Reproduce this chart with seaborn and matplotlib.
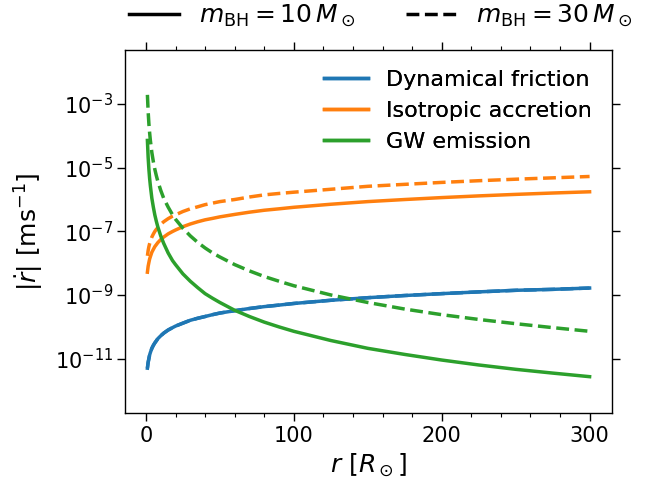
import numpy as np
import pandas as pd
import seaborn as sns
import matplotlib
matplotlib.use("Agg")
import matplotlib.pyplot as plt
from matplotlib.lines import Line2D
from matplotlib.ticker import MultipleLocator, NullLocator, FixedLocator, LogFormatterSciNotation

# ---- data ----
r = [1, 1.5, 2, 2.5, 3, 4, 5, 6, 7, 8, 10, 12, 15, 18, 20, 25, 30, 35, 40, 45, 50,
     60, 70, 80, 90, 100, 125, 150, 175, 200, 225, 250, 275, 300]

df_10 = [5.0e-12, 7.6e-12, 1.0e-11, 1.3e-11, 1.55e-11, 2.1e-11, 2.6e-11, 3.1e-11, 3.6e-11, 4.2e-11,
         5.2e-11, 6.3e-11, 7.9e-11, 9.4e-11, 1.05e-10, 1.3e-10, 1.6e-10, 1.85e-10, 2.1e-10, 2.4e-10,
         2.7e-10, 3.2e-10, 3.75e-10, 4.3e-10, 4.8e-10, 5.4e-10, 6.8e-10, 8.2e-10, 9.6e-10, 1.1e-9,
         1.25e-9, 1.4e-9, 1.5e-9, 1.65e-9]
df_30 = list(df_10)

acc_10 = [5.2e-9, 8.0e-9, 1.05e-8, 1.35e-8, 1.6e-8, 2.2e-8, 2.7e-8, 3.3e-8, 3.8e-8, 4.4e-8,
          5.5e-8, 6.6e-8, 8.3e-8, 9.9e-8, 1.1e-7, 1.4e-7, 1.7e-7, 2.0e-7, 2.3e-7, 2.55e-7,
          2.85e-7, 3.4e-7, 4.0e-7, 4.6e-7, 5.1e-7, 5.7e-7, 7.1e-7, 8.6e-7, 1.0e-6, 1.15e-6,
          1.3e-6, 1.45e-6, 1.6e-6, 1.75e-6]
acc_30 = [1.7e-8, 2.5e-8, 3.3e-8, 4.1e-8, 4.9e-8, 6.6e-8, 8.2e-8, 9.9e-8, 1.15e-7, 1.3e-7,
          1.65e-7, 2.0e-7, 2.5e-7, 3.0e-7, 3.3e-7, 4.2e-7, 5.1e-7, 5.9e-7, 6.9e-7, 7.7e-7,
          8.6e-7, 1.0e-6, 1.2e-6, 1.4e-6, 1.55e-6, 1.7e-6, 2.1e-6, 2.6e-6, 3.0e-6, 3.45e-6,
          3.9e-6, 4.35e-6, 4.8e-6, 5.3e-6]

gw_10 = [7.2e-5, 2.1e-5, 9.0e-6, 4.6e-6, 2.7e-6, 1.1e-6, 5.8e-7, 3.3e-7, 2.1e-7, 1.4e-7,
         7.2e-8, 4.2e-8, 2.1e-8, 1.2e-8, 9.0e-9, 4.6e-9, 2.7e-9, 1.7e-9, 1.1e-9, 7.9e-10,
         5.8e-10, 3.3e-10, 2.1e-10, 1.4e-10, 9.9e-11, 7.2e-11, 3.7e-11, 2.1e-11, 1.35e-11, 9.0e-12,
         6.3e-12, 4.6e-12, 3.5e-12, 2.7e-12]
gw_30 = [1.95e-3, 5.8e-4, 2.4e-4, 1.25e-4, 7.2e-5, 3.0e-5, 1.56e-5, 9.0e-6, 5.7e-6, 3.8e-6,
         1.95e-6, 1.1e-6, 5.8e-7, 3.3e-7, 2.4e-7, 1.25e-7, 7.2e-8, 4.5e-8, 3.0e-8, 2.1e-8,
         1.56e-8, 9.0e-9, 5.7e-9, 3.8e-9, 2.7e-9, 1.95e-9, 1.0e-9, 5.8e-10, 3.6e-10, 2.4e-10,
         1.7e-10, 1.25e-10, 9.4e-11, 7.2e-11]

processes = ["Dynamical friction", "Isotropic accretion", "GW emission"]
colors = ["#1f77b4", "#ff7f0e", "#2ca02c"]
mass_labels = [r"$m_{\rm BH}=10\,M_\odot$", r"$m_{\rm BH}=30\,M_\odot$"]
ytick_vals = [1e-11, 1e-9, 1e-7, 1e-5, 1e-3]

series = {
    ("Dynamical friction", 30): df_30,
    ("Dynamical friction", 10): df_10,
    ("Isotropic accretion", 30): acc_30,
    ("Isotropic accretion", 10): acc_10,
    ("GW emission", 30): gw_30,
    ("GW emission", 10): gw_10,
}

LW = 2.5
W, H = 647, 483
fig = plt.figure(figsize=(W / 100, H / 100), dpi=100)
ax = fig.add_axes([125.3 / W, (H - 413.3) / H, (611.7 - 125.3) / W, (413.3 - 50) / H])

for proc, col in zip(processes, colors):
    for m, ls in [(30, "--"), (10, "-")]:
        d = pd.DataFrame({"r": r, "v": series[(proc, m)]})
        sns.lineplot(data=d, x="r", y="v", ax=ax, color=col, linestyle=ls, linewidth=LW,
                     estimator=None, sort=False, legend=False)

ax.set_yscale("log")
ax.set_ylim(10 ** -12.72, 10 ** -1.30)
ax.yaxis.set_major_locator(FixedLocator(ytick_vals))
ax.yaxis.set_major_formatter(LogFormatterSciNotation())
ax.yaxis.set_minor_locator(NullLocator())
ax.xaxis.set_major_locator(MultipleLocator(100))
ax.xaxis.set_minor_locator(MultipleLocator(20))

ax.tick_params(which="both", direction="out", top=True, right=True, labelsize=15)
ax.tick_params(which="major", length=5.5, width=1)
ax.tick_params(which="minor", length=3, width=0.8)
for s in ax.spines.values():
    s.set_linewidth(1.0)

ax.set_xlabel(r"$r\ [R_\odot]$", fontsize=18)
ax.set_ylabel(r"$|\dot{r}|$ [ms$^{-1}$]", fontsize=18, labelpad=6)

proc_handles = [Line2D([0], [0], color=c, lw=LW) for c in colors]
leg1 = ax.legend(proc_handles, processes, loc="upper right", fontsize=16, frameon=False)
ax.add_artist(leg1)

mass_handles = [Line2D([0], [0], color="black", lw=LW, ls="-"),
                Line2D([0], [0], color="black", lw=LW, ls="--")]
fig.legend(mass_handles, mass_labels, loc="center", bbox_to_anchor=(381 / W, 1 - 16 / H),
           ncol=2, fontsize=18, frameon=False, borderaxespad=0, borderpad=0)

fig.savefig("out.png", dpi=100)
